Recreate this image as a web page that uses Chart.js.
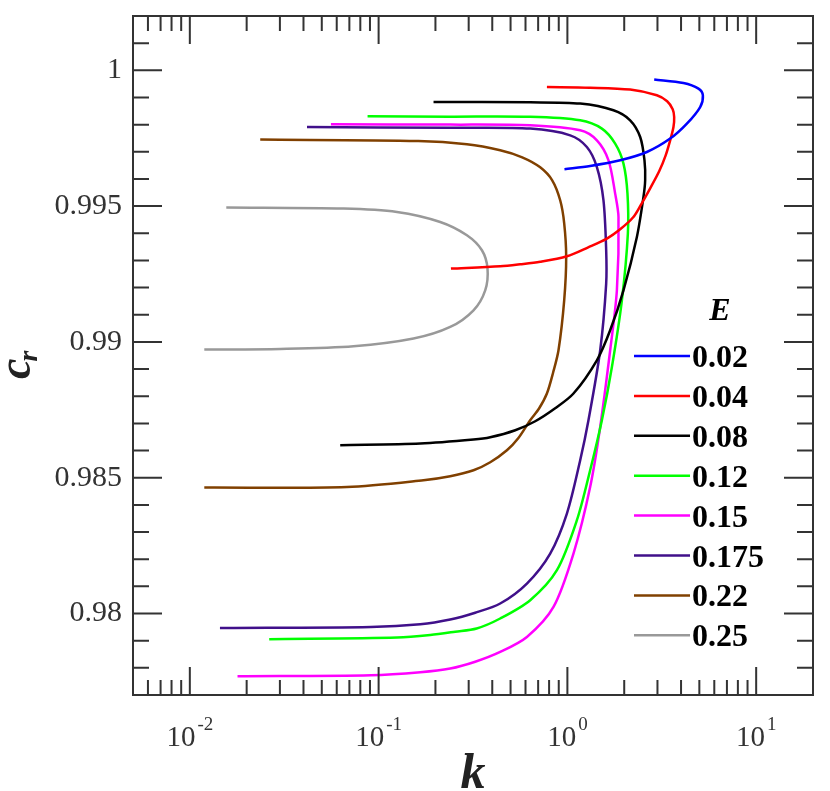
<!DOCTYPE html>
<html>
<head>
<meta charset="utf-8">
<script src="https://cdn.jsdelivr.net/npm/chart.js@4.4.1/dist/chart.umd.min.js"></script>
<style>
  html, body { margin: 0; padding: 0; background: #fff; }
  #wrap { width: 830px; height: 791px; position: relative; }
</style>
</head>
<body>
<div id="wrap"><canvas id="chart"></canvas></div>
<script>
// E values shown in the legend
const eLabels = ['0.02', '0.04', '0.08', '0.12', '0.15', '0.175', '0.22', '0.25'];
const eColors = ['#0000ff', '#ff0000', '#000000', '#00ff00', '#ff00ff', '#40108a', '#804000', '#999999'];

// curves traced along their path (k, c_r)
const k002  = [2.883, 4.120, 4.947, 5.220, 5.050, 4.295, 3.503, 2.636, 1.904, 1.320, 0.965];
const cr002 = [0.999658, 0.999532, 0.999326, 0.999080, 0.998649, 0.998038, 0.997486, 0.996992, 0.996687, 0.996477, 0.996356];

const k004  = [0.779, 1.320, 2.150, 2.978, 3.377, 3.612, 3.678, 3.647, 3.503, 3.316, 3.063, 2.745, 2.460, 2.231, 1.904, 1.619, 1.289, 0.994, 0.7177, 0.562, 0.4406, 0.2416];
const cr004 = [0.999385, 0.999360, 0.999290, 0.999080, 0.998859, 0.998564, 0.998281, 0.997913, 0.997423, 0.996871, 0.996282, 0.995656, 0.995067, 0.994589, 0.994147, 0.993805, 0.993484, 0.993153, 0.992950, 0.992858, 0.992785, 0.992700];

const k008  = [0.1954, 0.6353, 1.169, 1.754, 2.150, 2.430, 2.561, 2.582, 2.529, 2.334, 1.982, 1.685, 1.433, 1.077, 0.8617, 0.6754, 0.5294, 0.3903, 0.3182, 0.1662, 0.0626];
const cr008 = [0.998833, 0.998822, 0.998774, 0.998528, 0.998159, 0.997545, 0.996687, 0.995951, 0.995336, 0.993864, 0.991901, 0.990429, 0.989325, 0.988099, 0.987557, 0.987079, 0.986748, 0.986490, 0.986405, 0.986258, 0.986196];

const k012  = [0.0874, 0.2395, 0.6353, 1.169, 1.523, 1.791, 1.982, 2.081, 2.091, 1.944, 1.721, 1.523, 1.320, 1.123, 0.880, 0.6353, 0.4406, 0.3305, 0.2545, 0.1877, 0.1255, 0.02633];
const cr012 = [0.998307, 0.998295, 0.998288, 0.998159, 0.997854, 0.997302, 0.996565, 0.995461, 0.993989, 0.991533, 0.989078, 0.987116, 0.985275, 0.983435, 0.981594, 0.980490, 0.979816, 0.979448, 0.979330, 0.979209, 0.979116, 0.979054];

const k015  = [0.05591, 0.2395, 0.6353, 1.169, 1.433, 1.651, 1.791, 1.865, 1.829, 1.685, 1.492, 1.320, 1.077, 0.8441, 0.6103, 0.4406, 0.3249, 0.2395, 0.1662, 0.09096, 0.01789];
const cr015 = [0.998012, 0.998001, 0.997975, 0.997791, 0.997423, 0.996687, 0.995461, 0.994600, 0.991901, 0.989693, 0.986869, 0.984660, 0.982208, 0.980243, 0.979138, 0.978586, 0.978225, 0.977975, 0.977839, 0.977729, 0.977692];

const k0175  = [0.04174, 0.2395, 0.6353, 1.035, 1.268, 1.433, 1.553, 1.605, 1.605, 1.492, 1.293, 1.169, 0.994, 0.8108, 0.6103, 0.4406, 0.3249, 0.2395, 0.1662, 0.09096, 0.01444];
const cr0175 = [0.997913, 0.997883, 0.997854, 0.997607, 0.997176, 0.996440, 0.995214, 0.993374, 0.992148, 0.989693, 0.987116, 0.985643, 0.983681, 0.982208, 0.981104, 0.980368, 0.980029, 0.979779, 0.979606, 0.979507, 0.979470];

const k022  = [0.02360, 0.1622, 0.2936, 0.4406, 0.5763, 0.7177, 0.8309, 0.9159, 0.9618, 0.9854, 0.9618, 0.8972, 0.8410, 0.7788, 0.7090, 0.6353, 0.5490, 0.4782, 0.3903, 0.3182, 0.2395, 0.1729, 0.06797, 0.01193];
const cr022 = [0.997449, 0.997397, 0.997276, 0.997055, 0.996797, 0.996429, 0.995951, 0.995215, 0.994368, 0.993127, 0.991533, 0.989693, 0.988883, 0.988099, 0.987557, 0.987116, 0.986453, 0.986011, 0.985570, 0.985275, 0.985054, 0.984907, 0.984660, 0.984638];

const k025  = [0.01560, 0.06520, 0.1251, 0.2120, 0.2936, 0.3526, 0.3775, 0.3670, 0.3182, 0.2395, 0.1531, 0.07366, 0.03013, 0.01193];
const cr025 = [0.994946, 0.994909, 0.994784, 0.994416, 0.993926, 0.993374, 0.992700, 0.991901, 0.991165, 0.990550, 0.990123, 0.989840, 0.989741, 0.989718];

const kSeries  = [k002, k004, k008, k012, k015, k0175, k022, k025];
const crSeries = [cr002, cr004, cr008, cr012, cr015, cr0175, cr022, cr025];

// axes
const xMajor = [0.01, 0.1, 1, 10];
const xExponents = ['-2', '-1', '0', '1'];
const yMajor = [0.98, 0.985, 0.99, 0.995, 1];
const yTickLabels = ['0.98', '0.985', '0.99', '0.995', '1'];

const SERIF = '"Liberation Serif", "DejaVu Serif", serif';

const datasets = eLabels.map((lab, i) => ({
  label: lab,
  data: kSeries[i].map((k, j) => ({ x: k, y: crSeries[i][j] })),
  borderColor: eColors[i],
  backgroundColor: eColors[i],
  borderWidth: 2.5,
  pointRadius: 0,
  showLine: true,
  tension: 0.3,
  fill: false
}));

// frame, inside ticks on all sides, superscript labels, titles, legend
const decorPlugin = {
  id: 'decor',
  afterDraw(chart) {
    const { ctx, chartArea: a, scales } = chart;
    const xs = scales.x, ys = scales.y;
    const major = 28, minor = 15;
    ctx.save();
    ctx.strokeStyle = '#333';
    ctx.lineWidth = 2;
    ctx.strokeRect(a.left, a.top, a.right - a.left, a.bottom - a.top);

    // x ticks
    const xMin = xs.min, xMax = xs.max;
    for (let d = -3; d <= 2; d++) {
      for (let m = 1; m <= 9; m++) {
        const v = m * Math.pow(10, d);
        if (v <= xMin * 1.0001 || v >= xMax * 0.9999) continue;
        const px = xs.getPixelForValue(v);
        const len = m === 1 ? major : minor;
        ctx.beginPath();
        ctx.moveTo(px, a.bottom); ctx.lineTo(px, a.bottom - len);
        ctx.moveTo(px, a.top); ctx.lineTo(px, a.top + len);
        ctx.stroke();
      }
    }
    // y ticks every 0.001
    for (let i = 0; i <= 40; i++) {
      const v = Math.round((0.975 + i * 0.001) * 1000) / 1000;
      if (v <= ys.min + 1e-6 || v >= ys.max - 1e-6) continue;
      const py = ys.getPixelForValue(v);
      const isMajor = yMajor.some(t => Math.abs(t - v) < 1e-6);
      const len = isMajor ? major + 1 : minor + 1;
      ctx.beginPath();
      ctx.moveTo(a.left, py); ctx.lineTo(a.left + len, py);
      ctx.moveTo(a.right, py); ctx.lineTo(a.right - len, py);
      ctx.stroke();
    }

    // x tick labels 10^n
    ctx.fillStyle = '#333';
    ctx.textBaseline = 'alphabetic';
    xs.ticks.forEach((t, i) => {
      const px = xs.getPixelForValue(t.value);
      ctx.font = '29px ' + SERIF;
      const wBase = ctx.measureText('10').width;
      ctx.font = '19px ' + SERIF;
      const wExp = ctx.measureText(xExponents[i]).width;
      const left = px - (wBase + 2 + wExp) / 2;
      ctx.textAlign = 'left';
      ctx.font = '29px ' + SERIF;
      ctx.fillText('10', left, 746);
      ctx.font = '19px ' + SERIF;
      ctx.fillText(xExponents[i], left + wBase + 2, 730);
    });

    // x title
    ctx.fillStyle = '#222';
    ctx.font = 'bold italic 50px ' + SERIF;
    ctx.textAlign = 'center';
    ctx.fillText('k', (a.left + a.right) / 2, 788);

    // y title c_r, rotated
    ctx.save();
    ctx.translate(30, 379);
    ctx.rotate(-Math.PI / 2);
    ctx.textAlign = 'left';
    ctx.font = 'bold italic 46px ' + SERIF;
    ctx.fillText('c', 0, 0);
    const cw = ctx.measureText('c').width;
    ctx.font = 'bold italic 28px ' + SERIF;
    ctx.fillText('r', cw - 3, 7);
    ctx.restore();

    // legend
    ctx.fillStyle = '#000';
    ctx.font = 'bold italic 32px ' + SERIF;
    ctx.textAlign = 'center';
    ctx.fillText('E', 720, 320);
    ctx.textAlign = 'left';
    ctx.font = 'bold 32px ' + SERIF;
    chart.data.datasets.forEach((ds, i) => {
      const rowY = 356 + i * 39.9;
      ctx.strokeStyle = ds.borderColor;
      ctx.lineWidth = 2.5;
      ctx.beginPath();
      ctx.moveTo(634, rowY); ctx.lineTo(690, rowY);
      ctx.stroke();
      ctx.fillStyle = '#000';
      ctx.fillText(ds.label, 692, rowY + 11);
    });
    ctx.restore();
  }
};

new Chart(document.getElementById('chart'), {
  type: 'scatter',
  data: { datasets },
  options: {
    responsive: true,
    maintainAspectRatio: false,
    animation: false,
    layout: { padding: { top: 16, right: 17, left: 0, bottom: 0 } },
    plugins: { legend: { display: false }, tooltip: { enabled: false } },
    scales: {
      x: {
        type: 'logarithmic',
        min: 0.005,
        max: 20,
        grid: { display: false, drawTicks: false },
        border: { display: false },
        ticks: { display: false },
        afterBuildTicks: (scale) => { scale.ticks = xMajor.map(v => ({ value: v })); },
        afterFit: (scale) => { scale.height = 96; scale.paddingLeft = 0; scale.paddingRight = 0; }
      },
      y: {
        type: 'linear',
        min: 0.977,
        max: 1.002,
        grid: { display: false, drawTicks: false },
        border: { display: false },
        afterBuildTicks: (scale) => { scale.ticks = yMajor.map(v => ({ value: v })); },
        ticks: {
          autoSkip: false,
          padding: 11,
          color: '#333',
          font: { family: SERIF, size: 30 },
          callback: (v, i) => yTickLabels[i]
        },
        afterFit: (scale) => { scale.width = 133; scale.paddingTop = 0; scale.paddingBottom = 0; }
      }
    }
  },
  plugins: [decorPlugin]
});
</script>
</body>
</html>
